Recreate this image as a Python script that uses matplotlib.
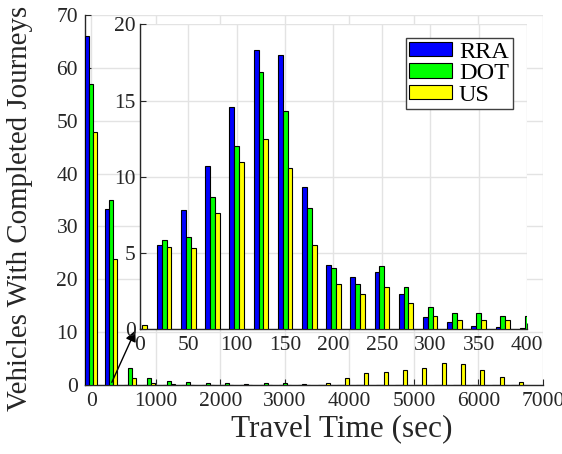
import numpy as np
import matplotlib
matplotlib.use("Agg")
import matplotlib.pyplot as plt

plt.rcParams['font.family'] = ['Liberation Serif', 'DejaVu Serif']

# ---- data: full travel-time histogram (bin centres in seconds) ----
main_bins = list(range(0, 6601, 300))
main_rra = [66.0, 33.3, 0, 0, 0, 0, 0, 0, 0, 0, 0, 0, 0, 0, 0, 0, 0, 0, 0, 0, 0, 0, 0]
main_dot = [56.9, 35.0, 3.2, 1.3, 0.8, 0.5, 0.4, 0.4, 0.2, 0.4, 0.4, 0.1, 0, 0, 0, 0, 0, 0, 0, 0, 0, 0, 0]
main_us = [47.8, 23.9, 1.3, 0.3, 0.1, 0, 0, 0, 0, 0, 0, 0, 0.4, 1.3, 2.2, 2.5, 2.8, 3.2, 4.2, 4.0, 2.8, 1.6, 0.6]

# ---- data: zoomed histogram for the first 400 s ----
zoom_bins = list(range(0, 401, 25))
zoom_rra = [0, 5.5, 7.8, 10.7, 14.6, 18.3, 18.0, 9.35, 4.2, 3.4, 3.75, 2.3, 0.8, 0.5, 0.2, 0.15, 0.1]
zoom_dot = [0, 5.85, 6.05, 8.7, 12.0, 16.85, 14.3, 7.95, 4.05, 3.0, 4.15, 2.75, 1.45, 1.05, 1.05, 0.9, 0.85]
zoom_us = [0.3, 5.4, 5.3, 7.65, 11.0, 12.5, 10.6, 5.5, 2.95, 2.3, 2.75, 1.75, 0.85, 0.6, 0.6, 0.6, 0.5]

series_names = ['RRA', 'DOT', 'US']
series_colors = ['#0000ff', '#00ff00', '#ffff00']

text_color = '#262626'
grid_color = '#e3e3e3'
tick_fs = 15.5


def style_axes(ax):
    for s in ('top', 'right'):
        ax.spines[s].set_visible(False)
    for s in ('left', 'bottom'):
        ax.spines[s].set_color(text_color)
        ax.spines[s].set_linewidth(1.0)
    ax.tick_params(direction='in', length=4, width=0.8, colors=text_color,
                   labelsize=tick_fs, labelcolor=text_color)
    ax.grid(True, color=grid_color, linewidth=1.0)
    ax.set_axisbelow(True)


def grouped_bars(ax, centers, groups, width):
    c = np.asarray(centers, dtype=float)
    handles = []
    for i, (vals, col, name) in enumerate(zip(groups, series_colors, series_names)):
        h = ax.bar(c + (i - 1) * width, vals, width=width, color=col,
                   edgecolor='black', linewidth=0.8, label=name, zorder=3)
        handles.append(h)
    return handles


fig = plt.figure(figsize=(5.62, 4.54), dpi=100)

# main axes
ax = fig.add_axes([0.1512, 0.152, 0.815, 0.815])
grouped_bars(ax, main_bins, [main_rra, main_dot, main_us], 62)
ax.set_xlim(-100, 7000)
ax.set_ylim(0, 70)
ax.set_xticks(range(0, 7001, 1000))
ax.set_yticks(range(0, 71, 10))
style_axes(ax)
ax.tick_params(axis='x', pad=5)
ax.tick_params(axis='y', pad=5)
ax.set_xlabel('Travel Time (sec)', fontsize=22.5, color=text_color)
ax.set_ylabel('Vehicles With Completed Journeys', fontsize=20.8, color=text_color)
ax.xaxis.set_label_coords(0.561, -0.079)
ax.yaxis.set_label_coords(-0.113, 0.477)

# arrow pointing from the short-trip bars to the zoomed view
ax.annotate('', xy=(680, 10.3), xytext=(316, 0.5),
            arrowprops=dict(arrowstyle='-|>', color='black', lw=1.0,
                            mutation_scale=16, shrinkA=0, shrinkB=0),
            zorder=6)

# inset axes
axi = fig.add_axes([0.2491, 0.2747, 0.6886, 0.6718])
axi.set_facecolor('white')
axi.set_zorder(5)
handles = grouped_bars(axi, zoom_bins, [zoom_rra, zoom_dot, zoom_us], 5)
axi.set_xlim(0, 400)
axi.set_ylim(0, 20)
axi.set_xticks(range(0, 401, 50))
axi.set_yticks(range(0, 21, 5))
style_axes(axi)
axi.tick_params(axis='x', pad=5)
axi.tick_params(axis='y', pad=3)

leg = axi.legend(handles=handles, loc='upper right', bbox_to_anchor=(0.963, 0.955),
                 fontsize=17.5, frameon=True, fancybox=False, framealpha=1,
                 edgecolor='#404040', handlelength=1.75, handleheight=0.55,
                 handletextpad=0.3, labelspacing=0.02, borderpad=0.15,
                 borderaxespad=0)
leg.get_frame().set_linewidth(1.0)
for t in leg.get_texts():
    t.set_color('black')

fig.savefig('out.png', dpi=100)
